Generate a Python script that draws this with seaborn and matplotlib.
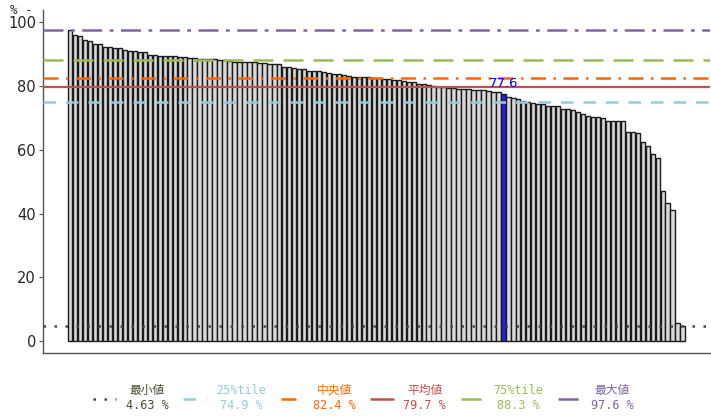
import numpy as np
import pandas as pd
import matplotlib
matplotlib.use("Agg")
import matplotlib.pyplot as plt
import seaborn as sns
from matplotlib.lines import Line2D

# ---- data ----
values = [
    97.6, 95.9, 95.7, 94.4, 94.1, 93.2, 93.1, 92.4, 92.3, 92.0,
    91.9, 91.4, 91.1, 91.0, 90.7, 90.6, 89.9, 89.7, 89.6, 89.6,
    89.4, 89.3, 89.1, 89.0, 88.9, 88.8, 88.6, 88.5, 88.4, 88.4,
    88.2, 88.2, 87.8, 87.7, 87.7, 87.6, 87.6, 87.5, 87.4, 87.4,
    87.0, 87.0, 86.9, 85.9, 85.9, 85.8, 85.4, 85.3, 84.7, 84.6,
    84.6, 84.5, 84.0, 83.8, 83.7, 83.4, 83.3, 83.0, 83.0, 82.9,
    82.8, 82.7, 82.4, 82.3, 82.1, 82.0, 81.8, 81.7, 81.4, 81.3,
    80.8, 80.6, 80.2, 80.1, 79.7, 79.6, 79.5, 79.4, 79.2, 79.1,
    79.0, 78.9, 78.8, 78.7, 78.5, 78.3, 78.2, 77.6, 76.5, 76.2,
    75.9, 75.4, 75.0, 74.6, 74.3, 74.3, 73.9, 73.9, 73.6, 72.8,
    72.8, 72.5, 71.8, 71.2, 70.6, 70.3, 70.2, 69.9, 69.2, 69.2,
    69.2, 69.2, 65.6, 65.6, 65.2, 62.4, 61.2, 58.7, 57.4, 47.1,
    43.2, 41.1, 5.7, 4.63,
]
highlight_index = 87
stat_names = ["最小値", "25%tile", "中央値", "平均値", "75%tile", "最大値"]
stat_values = [4.63, 74.9, 82.4, 79.7, 88.3, 97.6]
stat_colors = ["#4a4a30", "#92cddc", "#ff6600", "#c0504d", "#9bbb59", "#8064a2"]
stat_styles = [(0, (1, 3.4)), (0, (5, 4)), (0, (6, 3, 1, 3)), "-", (0, (8, 4)), (0, (8, 3, 1.5, 3))]
y_ticks = [0, 20, 40, 60, 80, 100]

df = pd.DataFrame({"idx": np.arange(len(values)), "value": values})
palette = ["#d9d9d9"] * len(values)
palette[highlight_index] = "#0000ff"

sns.set_style("white")
plt.rcParams["font.family"] = ["DejaVu Sans", "Noto Sans CJK JP"]

fig = plt.figure(figsize=(7.11, 4.19), dpi=100)
ax = fig.add_axes([43 / 711, 1 - 353 / 419, (710 - 43) / 711, (353 - 10) / 419])

sns.barplot(data=df, x="idx", y="value", hue="idx", palette=palette, legend=False,
            width=0.88, edgecolor="#1a1a1a", linewidth=1.0, ax=ax, native_scale=True)

for v, c, ls in zip(stat_values, stat_colors, stat_styles):
    ax.axhline(v, color=c, linestyle=ls, linewidth=1.8 if ls != "-" else 1.6, zorder=3)

ax.text(highlight_index, values[highlight_index] + 1.2, f"{values[highlight_index]:.1f}",
        color="#0000ff", ha="center", va="bottom", fontsize=9.5, zorder=4)

ax.set_xlim(-5.46, 128.5)
ax.set_ylim(-3.8, 103.9)
ax.set_yticks(y_ticks)
ax.set_yticklabels([str(t) for t in y_ticks], fontsize=10.5)
ax.set_xticks([])
ax.set_xlabel("")
ax.set_ylabel("")
for s in ["top", "right"]:
    ax.spines[s].set_visible(False)
for s in ["left", "bottom"]:
    ax.spines[s].set_color("#555555")
    ax.spines[s].set_linewidth(1.0)
ax.tick_params(axis="y", left=True, length=3, width=0.8, color="#555555", pad=2)
fig.text(10 / 711, 1 - 11 / 419, "% -", fontsize=9, ha="left", va="center",
         family=["DejaVu Sans Mono", "Noto Sans CJK JP"])

handles = [Line2D([0], [0], color=c, linestyle=ls, linewidth=1.8)
           for c, ls in zip(stat_colors, stat_styles)]
labels = [f"{n}\n{v:g} %" for n, v in zip(stat_names, stat_values)]
leg = fig.legend(handles, labels, loc="center", bbox_to_anchor=(0.511, 1 - 398 / 419),
                 ncol=6, frameon=False, handlelength=1.93, handletextpad=0.83,
                 columnspacing=1.25,
                 prop={"family": ["DejaVu Sans Mono", "Noto Sans CJK JP"], "size": 8.5})
for t, c in zip(leg.get_texts(), stat_colors):
    t.set_color(c)
    t.set_multialignment("center")
    t.set_linespacing(1.2)

fig.savefig("out.png", dpi=100)
